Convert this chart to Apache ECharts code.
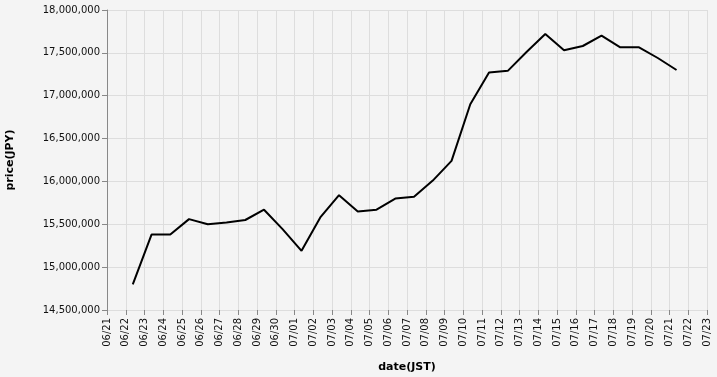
<!DOCTYPE html>
<html>
<head>
<meta charset="utf-8">
<script src="https://cdn.jsdelivr.net/npm/echarts@6/dist/echarts.min.js"></script>
<style>
html,body{margin:0;padding:0;background:#f4f4f4;}
#chart{width:717px;height:377px;}
</style>
</head>
<body>
<div id="chart"></div>
<script>
// Observation times (JST)
const dates = [
  '2025-06-22T09:00','2025-06-23T09:00','2025-06-24T09:00','2025-06-25T09:00','2025-06-26T09:00',
  '2025-06-27T09:00','2025-06-28T09:00','2025-06-29T09:00','2025-06-30T09:00','2025-07-01T09:00',
  '2025-07-02T09:00','2025-07-03T09:00','2025-07-04T09:00','2025-07-05T09:00','2025-07-06T09:00',
  '2025-07-07T09:00','2025-07-08T09:00','2025-07-09T09:00','2025-07-10T09:00','2025-07-11T09:00',
  '2025-07-12T09:00','2025-07-13T09:00','2025-07-14T09:00','2025-07-15T09:00','2025-07-16T09:00',
  '2025-07-17T09:00','2025-07-18T09:00','2025-07-19T09:00','2025-07-20T09:00','2025-07-21T09:00'
];
// price (JPY)
const prices = [
  14800000, 15380000, 15380000, 15560000, 15500000,
  15520000, 15550000, 15670000, 15440000, 15190000,
  15580000, 15840000, 15650000, 15670000, 15800000,
  15820000, 16010000, 16240000, 16900000, 17270000,
  17290000, 17510000, 17720000, 17530000, 17580000,
  17700000, 17565000, 17565000, 17440000, 17300000
];
// x-axis tick labels (one per day from domain start)
const axisStart = '2025-06-21T00:00';
const tickLabels = [
  '06/21','06/22','06/23','06/24','06/25','06/26','06/27','06/28','06/29','06/30',
  '07/01','07/02','07/03','07/04','07/05','07/06','07/07','07/08','07/09','07/10',
  '07/11','07/12','07/13','07/14','07/15','07/16','07/17','07/18','07/19','07/20',
  '07/21','07/22','07/23'
];
const yMin = 14500000, yMax = 18000000, yStep = 500000;

const DAY = 86400000;
const t0 = Date.parse(axisStart);
const seriesData = dates.map((d, i) => [(Date.parse(d) - t0) / DAY, prices[i]]);

const font = 'DejaVu Sans';
const chart = echarts.init(document.getElementById('chart'), null, {renderer: 'canvas'});
chart.setOption({
  backgroundColor: '#f4f4f4',
  animation: false,
  grid: {left: 107, top: 10, width: 600, height: 300, containLabel: false, outerBoundsMode: 'none'},
  xAxis: {
    type: 'value',
    min: 0,
    max: tickLabels.length - 1,
    interval: 1,
    name: 'date(JST)',
    nameLocation: 'middle',
    nameGap: 52,
    nameTextStyle: {fontFamily: font, fontSize: 11, fontWeight: 'bold', color: '#000'},
    axisLine: {show: false},
    axisTick: {show: true, length: 5, lineStyle: {color: '#888'}},
    axisLabel: {
      rotate: 90, fontFamily: font, fontSize: 10, color: '#111', margin: 8,
      formatter: v => tickLabels[Math.round(v)] || ''
    },
    splitLine: {show: true, lineStyle: {color: '#ddd', width: 1}}
  },
  yAxis: {
    type: 'value',
    min: yMin,
    max: yMax,
    interval: yStep,
    name: 'price(JPY)',
    nameLocation: 'middle',
    nameGap: 91,
    nameTextStyle: {fontFamily: font, fontSize: 11, fontWeight: 'bold', color: '#000'},
    axisLine: {show: true, lineStyle: {color: '#888'}},
    axisTick: {show: true, length: 5, lineStyle: {color: '#888'}},
    axisLabel: {
      fontFamily: font, fontSize: 10, color: '#111', margin: 7,
      formatter: v => v.toLocaleString('en-US')
    },
    splitLine: {show: true, lineStyle: {color: '#ddd', width: 1}}
  },
  series: [{
    type: 'line',
    data: seriesData,
    showSymbol: false,
    lineStyle: {color: '#000', width: 2},
    itemStyle: {color: '#000'}
  }]
});
</script>
</body>
</html>
